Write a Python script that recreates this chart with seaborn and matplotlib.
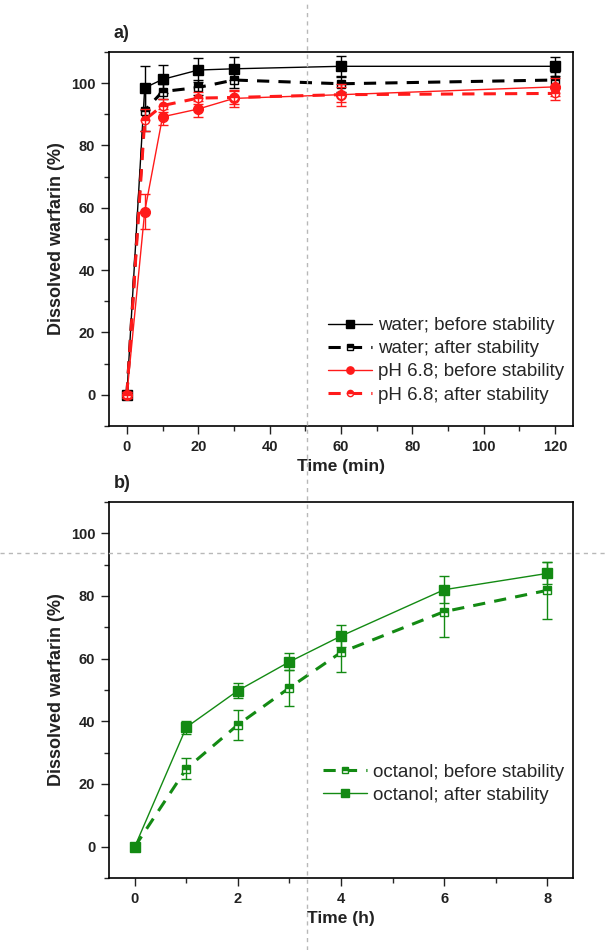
import numpy as np
import pandas as pd
import matplotlib
matplotlib.use("Agg")
import matplotlib.pyplot as plt
import seaborn as sns
from matplotlib.ticker import MultipleLocator

# ---- data: panel a (time in min) ----
t_min = [0, 5, 10, 20, 30, 60, 120]
water_before = [0, 98.5, 101.2, 104.2, 104.6, 105.4, 105.4]
water_before_err = [1.0, 7.0, 4.5, 3.8, 3.7, 3.3, 3.0]
water_after = [0, 91.2, 97.3, 98.6, 101.0, 99.8, 101.0]
water_after_err = [1.0, 6.5, 2.5, 2.5, 2.5, 2.5, 2.5]
ph_before = [0, 58.8, 89.2, 91.7, 95.1, 96.3, 98.8]
ph_before_err = [1.0, 5.7, 2.5, 2.5, 2.7, 3.5, 3.0]
ph_after = [0, 88.2, 92.8, 95.2, 95.4, 96.3, 96.7]
ph_after_err = [1.0, 3.5, 2.0, 2.0, 2.0, 2.5, 2.0]

# ---- data: panel b (time in h) ----
t_h = [0, 1, 2, 3, 4, 6, 8]
oct_before = [0, 24.9, 38.9, 50.7, 62.0, 75.0, 81.8]
oct_before_err = [0.5, 3.4, 4.8, 5.8, 6.4, 8.0, 9.0]
oct_after = [0, 38.1, 49.8, 59.0, 67.2, 82.0, 87.2]
oct_after_err = [0.5, 2.0, 2.5, 2.7, 3.5, 4.3, 3.5]

sns.set_style("ticks")
plt.rcParams['font.family'] = ['Liberation Sans', 'DejaVu Sans']

fig = plt.figure(figsize=(6.07, 9.5), dpi=100)
ax1 = fig.add_axes([0.1796, 0.5516, 0.7644, 0.3937])
ax2 = fig.add_axes([0.1796, 0.0758, 0.7644, 0.3958])

red = '#ff1a1a'
green = '#138a13'


def series(ax, x, y, err, color, ls, marker, half, label, lw, ms):
    df = pd.DataFrame({'x': x, 'y': y})
    kw = dict(markeredgecolor=color, markerfacecolor=color, markersize=ms,
              markeredgewidth=1.0)
    if half:
        kw.update(fillstyle='top', markerfacecoloralt='white')
    sns.lineplot(data=df, x='x', y='y', ax=ax, color=color, linestyle=ls,
                 marker=marker, linewidth=lw, label=label, **kw)
    ax.errorbar(x, y, yerr=err, fmt='none', ecolor=color, elinewidth=1.0,
                capsize=3.5, capthick=1.0)


series(ax1, t_min, water_before, water_before_err, 'black', '-', 's', False,
       'water; before stability', 1.0, 7)
series(ax1, t_min, water_after, water_after_err, 'black', (0, (4, 3)), 's', True,
       'water; after stability', 2.2, 6)
series(ax1, t_min, ph_before, ph_before_err, red, '-', 'o', False,
       'pH 6.8; before stability', 1.0, 7)
series(ax1, t_min, ph_after, ph_after_err, red, (0, (4, 3)), 'o', True,
       'pH 6.8; after stability', 2.2, 6)

series(ax2, t_h, oct_before, oct_before_err, green, (0, (4, 3)), 's', True,
       'octanol; before stability', 2.2, 6)
series(ax2, t_h, oct_after, oct_after_err, green, '-', 's', False,
       'octanol; after stability', 1.0, 7)

ax1.set_xlim(-5, 125)
ax1.set_ylim(-10, 110)
ax1.xaxis.set_major_locator(MultipleLocator(20))
ax1.xaxis.set_minor_locator(MultipleLocator(10))
ax1.set_xlabel('Time (min)')

ax2.set_xlim(-0.5, 8.5)
ax2.set_ylim(-10, 110)
ax2.xaxis.set_major_locator(MultipleLocator(2))
ax2.xaxis.set_minor_locator(MultipleLocator(1))
ax2.set_xlabel('Time (h)')

for ax, tag in [(ax1, 'a)'), (ax2, 'b)')]:
    ax.yaxis.set_major_locator(MultipleLocator(20))
    ax.yaxis.set_minor_locator(MultipleLocator(10))
    ax.set_ylabel('Dissolved warfarin (%)', fontsize=13, fontweight='bold',
                  color='#222222', labelpad=4)
    ax.xaxis.label.set_fontsize(12.5)
    ax.xaxis.label.set_fontweight('bold')
    ax.xaxis.label.set_color('#222222')
    ax.tick_params(which='major', length=6, width=1.0, labelsize=10.5,
                   colors='#222222', direction='out', pad=4)
    ax.tick_params(which='minor', length=3.5, width=1.0, direction='out')
    for lab in ax.get_xticklabels() + ax.get_yticklabels():
        lab.set_fontweight('bold')
    for sp in ax.spines.values():
        sp.set_linewidth(1.2)
        sp.set_color('black')
    ax.text(0.01, 1.027, tag, transform=ax.transAxes, fontsize=13,
            fontweight='bold', ha='left', va='bottom', color='#222222')

leg_kw = dict(frameon=False, fontsize=13.5, handlelength=2.35,
              handletextpad=0.3, labelspacing=0.32, markerscale=0.75,
              borderpad=0, borderaxespad=0)
ax1.legend(loc='lower right', bbox_to_anchor=(0.98, 0.06), **leg_kw)
ax2.legend(loc='lower right', bbox_to_anchor=(0.98, 0.197), **leg_kw)

# dashed guide lines present in the reference picture
fig.add_artist(plt.Line2D([307 / 607, 307 / 607], [0, 1], transform=fig.transFigure,
                          color='#b8b8b8', lw=1.0, ls=(0, (3, 3))))
fig.add_artist(plt.Line2D([0, 1], [1 - 553 / 950, 1 - 553 / 950],
                          transform=fig.transFigure, color='#b8b8b8', lw=1.0,
                          ls=(0, (3, 3))))

fig.savefig('out.png', dpi=100)
